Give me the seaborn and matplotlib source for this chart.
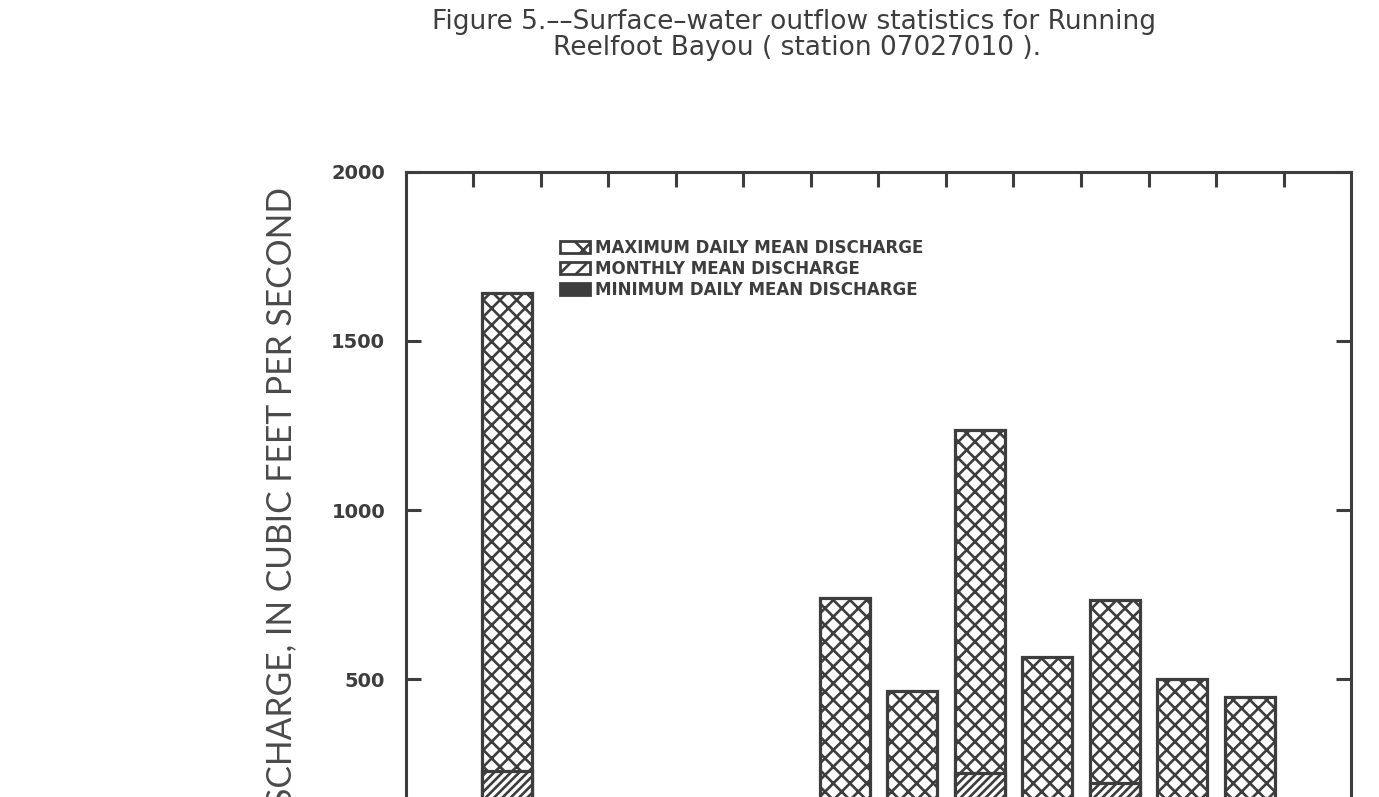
import matplotlib
matplotlib.use('Agg')
import matplotlib.pyplot as plt
import seaborn as sns
import pandas as pd
from matplotlib.patches import Patch

# water year, oct -> sep ; values in cubic feet per second
months = ['OCT', 'NOV', 'DEC', 'JAN', 'FEB', 'MAR', 'APR', 'MAY', 'JUN', 'JUL', 'AUG', 'SEP']
max_daily = [1642, 120, 95, 140, 130, 740, 464, 1237, 565, 734, 500, 447]
monthly_mean = [228, 45, 38, 62, 70, 135, 110, 222, 118, 192, 95, 72]
min_daily = [18, 10, 9, 14, 20, 30, 28, 40, 25, 30, 22, 15]
y_ticks = [500, 1000, 1500, 2000]
legend_labels = ['MAXIMUM DAILY MEAN DISCHARGE', 'MONTHLY MEAN DISCHARGE', 'MINIMUM DAILY MEAN DISCHARGE']

ink = '#3d3d3d'

sns.set_theme(style='white')
plt.rcParams['font.family'] = ['DejaVu Sans']
plt.rcParams['hatch.color'] = ink
plt.rcParams['hatch.linewidth'] = 1.9

df = pd.DataFrame({'month': months, 'max': max_daily, 'mean': monthly_mean, 'min': min_daily})

fig = plt.figure(figsize=(13.79, 7.97), dpi=100)
# bottom of the plot runs off the page, like the scanned figure
ax = fig.add_axes([0.2944, -0.064, 0.6853, 0.8482])

common = dict(data=df, x='month', order=months, width=0.74, edgecolor=ink,
              linewidth=2.3, saturation=1, errorbar=None, ax=ax)
sns.barplot(y='max', color='white', hatch='xx', **common)
sns.barplot(y='mean', color='white', hatch='////', **common)
sns.barplot(y='min', color=ink, **common)

ax.set_xlim(-1.5, 12.5)
ax.set_ylim(0, 2000)
ax.set_xticks([i - 0.5 for i in range(13)])
ax.set_xticklabels([])
ax.set_yticks(y_ticks)
ax.set_yticklabels([str(v) for v in y_ticks], fontsize=14, fontweight='bold', color=ink)
ax.set_xlabel('')
ax.set_ylabel('')
ax.tick_params(direction='in', length=11, width=2.2, color=ink, top=True, right=True,
               bottom=True, left=True, pad=15)
for sp in ax.spines.values():
    sp.set_linewidth(2.2)
    sp.set_color(ink)

handles = [Patch(facecolor='white', edgecolor=ink, hatch='x', linewidth=2),
           Patch(facecolor='white', edgecolor=ink, hatch='//', linewidth=2),
           Patch(facecolor=ink, edgecolor=ink, linewidth=2)]
leg = ax.legend(handles, legend_labels, loc='upper left', bbox_to_anchor=(0.163, 0.901),
                frameon=False, prop=dict(weight='bold', size=12), handlelength=1.8,
                handleheight=0.68, handletextpad=0.3, labelspacing=0.18,
                borderaxespad=0, borderpad=0)
for t in leg.get_texts():
    t.set_color(ink)

fig.text(281 / 1379, 1 - 187 / 797, 'DISCHARGE, IN CUBIC FEET PER SECOND', rotation=90,
         ha='center', va='top', fontsize=24.2, family=['Lato', 'DejaVu Sans'],
         color='#4a4a4a')

fig.text(0.576, 1 - 29 / 797, 'Figure 5.\u2013\u2013Surface\u2013water outflow statistics for Running',
         ha='center', va='baseline', fontsize=19, color=ink)
fig.text(0.578, 1 - 55 / 797, 'Reelfoot Bayou ( station 07027010 ).',
         ha='center', va='baseline', fontsize=19, color=ink)

fig.savefig('out.png', dpi=100)
